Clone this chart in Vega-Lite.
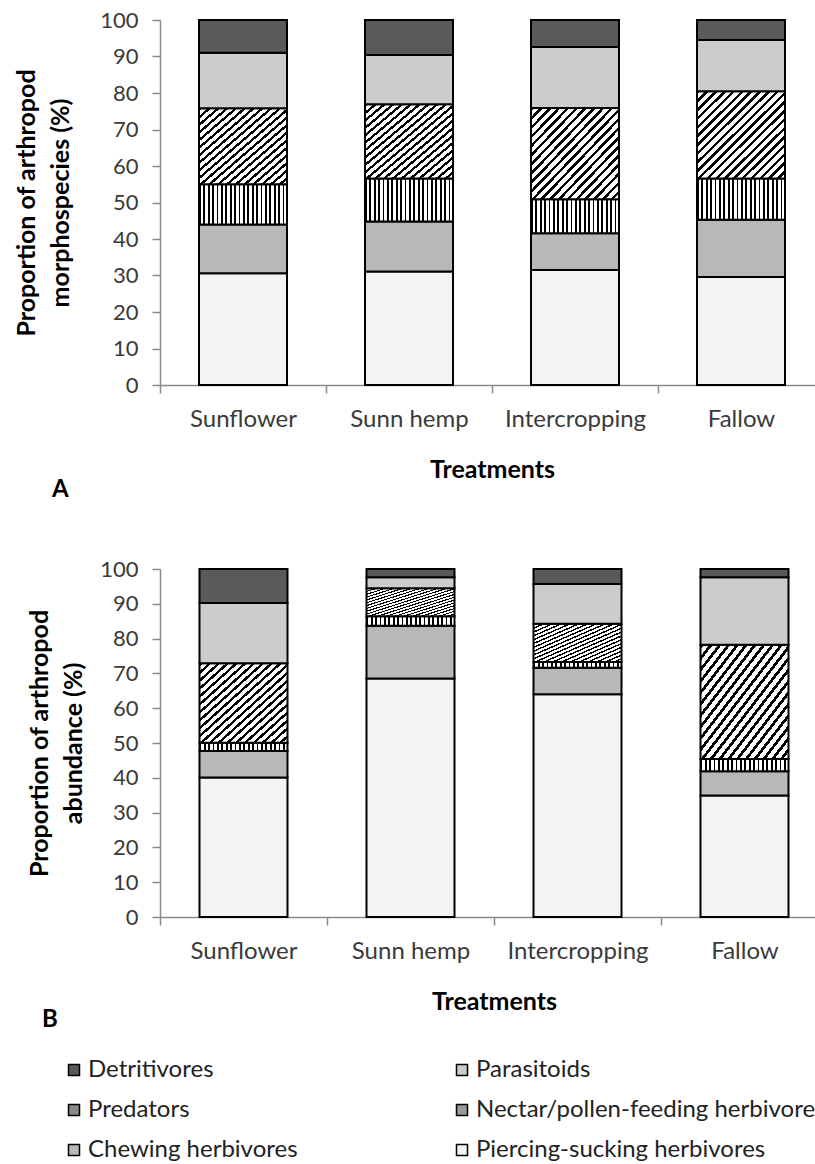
{
  "$schema": "https://vega.github.io/schema/vega-lite/v6.json",
  "background": "white",
  "padding": {"left": 14, "top": 9, "right": 0, "bottom": 0},
  "config": {
    "view": {"stroke": null},
    "font": "Lato",
    "concat": {"spacing": 56},
    "axis": {
      "domainColor": "#8a8a8a", "domainWidth": 1.5, "tickColor": "#8a8a8a", "tickWidth": 1.5, "tickSize": 8,
      "grid": false, "labelColor": "#3a3a3a", "labelFont": "Lato", "titleFont": "Lato", "titleFontWeight": "bold",
      "titleFontSize": 25, "titleColor": "black"
    }
  },
  "datasets": {
    "groups": [
      {"group": "Piercing-sucking herbivores", "rank": 1},
      {"group": "Chewing herbivores", "rank": 2},
      {"group": "Nectar/pollen-feeding herbivores", "rank": 3},
      {"group": "Predators", "rank": 4},
      {"group": "Parasitoids", "rank": 5},
      {"group": "Detritivores", "rank": 6}
    ]
  },
  "data": {"values": [
    {"panel": "A", "treatment": "Sunflower", "group": "Piercing-sucking herbivores", "value": 30.6},
    {"panel": "A", "treatment": "Sunflower", "group": "Chewing herbivores", "value": 13.4},
    {"panel": "A", "treatment": "Sunflower", "group": "Nectar/pollen-feeding herbivores", "value": 11.0},
    {"panel": "A", "treatment": "Sunflower", "group": "Predators", "value": 20.8},
    {"panel": "A", "treatment": "Sunflower", "group": "Parasitoids", "value": 15.2},
    {"panel": "A", "treatment": "Sunflower", "group": "Detritivores", "value": 9.0},
    {"panel": "A", "treatment": "Sunn hemp", "group": "Piercing-sucking herbivores", "value": 31.1},
    {"panel": "A", "treatment": "Sunn hemp", "group": "Chewing herbivores", "value": 13.7},
    {"panel": "A", "treatment": "Sunn hemp", "group": "Nectar/pollen-feeding herbivores", "value": 11.8},
    {"panel": "A", "treatment": "Sunn hemp", "group": "Predators", "value": 20.3},
    {"panel": "A", "treatment": "Sunn hemp", "group": "Parasitoids", "value": 13.5},
    {"panel": "A", "treatment": "Sunn hemp", "group": "Detritivores", "value": 9.6},
    {"panel": "A", "treatment": "Intercropping", "group": "Piercing-sucking herbivores", "value": 31.5},
    {"panel": "A", "treatment": "Intercropping", "group": "Chewing herbivores", "value": 10.1},
    {"panel": "A", "treatment": "Intercropping", "group": "Nectar/pollen-feeding herbivores", "value": 9.3},
    {"panel": "A", "treatment": "Intercropping", "group": "Predators", "value": 25.0},
    {"panel": "A", "treatment": "Intercropping", "group": "Parasitoids", "value": 16.7},
    {"panel": "A", "treatment": "Intercropping", "group": "Detritivores", "value": 7.4},
    {"panel": "A", "treatment": "Fallow", "group": "Piercing-sucking herbivores", "value": 29.6},
    {"panel": "A", "treatment": "Fallow", "group": "Chewing herbivores", "value": 15.7},
    {"panel": "A", "treatment": "Fallow", "group": "Nectar/pollen-feeding herbivores", "value": 11.3},
    {"panel": "A", "treatment": "Fallow", "group": "Predators", "value": 23.9},
    {"panel": "A", "treatment": "Fallow", "group": "Parasitoids", "value": 14.0},
    {"panel": "A", "treatment": "Fallow", "group": "Detritivores", "value": 5.5},
    {"panel": "B", "treatment": "Sunflower", "group": "Piercing-sucking herbivores", "value": 40.1},
    {"panel": "B", "treatment": "Sunflower", "group": "Chewing herbivores", "value": 7.6},
    {"panel": "B", "treatment": "Sunflower", "group": "Nectar/pollen-feeding herbivores", "value": 2.4},
    {"panel": "B", "treatment": "Sunflower", "group": "Predators", "value": 22.8},
    {"panel": "B", "treatment": "Sunflower", "group": "Parasitoids", "value": 17.3},
    {"panel": "B", "treatment": "Sunflower", "group": "Detritivores", "value": 9.8},
    {"panel": "B", "treatment": "Sunn hemp", "group": "Piercing-sucking herbivores", "value": 68.5},
    {"panel": "B", "treatment": "Sunn hemp", "group": "Chewing herbivores", "value": 15.2},
    {"panel": "B", "treatment": "Sunn hemp", "group": "Nectar/pollen-feeding herbivores", "value": 2.7},
    {"panel": "B", "treatment": "Sunn hemp", "group": "Predators", "value": 8.1},
    {"panel": "B", "treatment": "Sunn hemp", "group": "Parasitoids", "value": 3.1},
    {"panel": "B", "treatment": "Sunn hemp", "group": "Detritivores", "value": 2.4},
    {"panel": "B", "treatment": "Intercropping", "group": "Piercing-sucking herbivores", "value": 64.0},
    {"panel": "B", "treatment": "Intercropping", "group": "Chewing herbivores", "value": 7.6},
    {"panel": "B", "treatment": "Intercropping", "group": "Nectar/pollen-feeding herbivores", "value": 1.7},
    {"panel": "B", "treatment": "Intercropping", "group": "Predators", "value": 11.0},
    {"panel": "B", "treatment": "Intercropping", "group": "Parasitoids", "value": 11.4},
    {"panel": "B", "treatment": "Intercropping", "group": "Detritivores", "value": 4.3},
    {"panel": "B", "treatment": "Fallow", "group": "Piercing-sucking herbivores", "value": 34.9},
    {"panel": "B", "treatment": "Fallow", "group": "Chewing herbivores", "value": 7.0},
    {"panel": "B", "treatment": "Fallow", "group": "Nectar/pollen-feeding herbivores", "value": 3.5},
    {"panel": "B", "treatment": "Fallow", "group": "Predators", "value": 32.8},
    {"panel": "B", "treatment": "Fallow", "group": "Parasitoids", "value": 19.4},
    {"panel": "B", "treatment": "Fallow", "group": "Detritivores", "value": 2.4}
  ]},
  "vconcat": [
    {
      "width": 664,
      "height": 365,
      "title": {"text": "A", "orient": "bottom", "anchor": "start", "frame": "group", "dx": -108, "offset": -4, "fontSize": 24, "fontWeight": "bold", "font": "Lato", "color": "black"},
      "transform": [
        {"filter": "datum.panel === 'A'"},
        {"lookup": "group", "from": {"data": {"name": "groups"}, "key": "group", "fields": ["rank"]}}
      ],
      "mark": {"type": "bar", "size": 88, "stroke": "black", "strokeWidth": 2},
      "encoding": {
        "x": {"field": "treatment", "type": "nominal", "sort": ["Sunflower", "Sunn hemp", "Intercropping", "Fallow"],
              "scale": {"paddingInner": 0, "paddingOuter": 0},
              "axis": {"title": "Treatments", "labelAngle": 0, "tickBand": "extent", "labelPadding": 14, "titlePadding": 26, "labelFontSize": 24}},
        "y": {"field": "value", "type": "quantitative", "stack": "zero", "scale": {"domain": [0, 100], "nice": false},
              "axis": {"title": ["Proportion of arthropod", "morphospecies (%)"], "values": [0, 10, 20, 30, 40, 50, 60, 70, 80, 90, 100], "labelPadding": 14, "titlePadding": 26, "titleLineHeight": 34, "labelFontSize": 22}},
        "order": {"field": "rank", "type": "quantitative", "sort": "ascending"},
        "color": {
          "condition": [
            {"test": "datum.group === 'Nectar/pollen-feeding herbivores'", "value": {"gradient": "linear", "x1": 0, "y1": 0, "x2": 1, "y2": 0, "stops": [
                {"offset": 0, "color": "black"}, {"offset": 0.02, "color": "black"}, {"offset": 0.02, "color": "white"}, {"offset": 0.05, "color": "white"},
                {"offset": 0.05, "color": "black"}, {"offset": 0.07, "color": "black"}, {"offset": 0.07, "color": "white"}, {"offset": 0.10, "color": "white"},
                {"offset": 0.10, "color": "black"}, {"offset": 0.12, "color": "black"}, {"offset": 0.12, "color": "white"}, {"offset": 0.15, "color": "white"},
                {"offset": 0.15, "color": "black"}, {"offset": 0.17, "color": "black"}, {"offset": 0.17, "color": "white"}, {"offset": 0.20, "color": "white"},
                {"offset": 0.20, "color": "black"}, {"offset": 0.22, "color": "black"}, {"offset": 0.22, "color": "white"}, {"offset": 0.25, "color": "white"},
                {"offset": 0.25, "color": "black"}, {"offset": 0.27, "color": "black"}, {"offset": 0.27, "color": "white"}, {"offset": 0.30, "color": "white"},
                {"offset": 0.30, "color": "black"}, {"offset": 0.32, "color": "black"}, {"offset": 0.32, "color": "white"}, {"offset": 0.35, "color": "white"},
                {"offset": 0.35, "color": "black"}, {"offset": 0.37, "color": "black"}, {"offset": 0.37, "color": "white"}, {"offset": 0.40, "color": "white"},
                {"offset": 0.40, "color": "black"}, {"offset": 0.42, "color": "black"}, {"offset": 0.42, "color": "white"}, {"offset": 0.45, "color": "white"},
                {"offset": 0.45, "color": "black"}, {"offset": 0.47, "color": "black"}, {"offset": 0.47, "color": "white"}, {"offset": 0.50, "color": "white"},
                {"offset": 0.50, "color": "black"}, {"offset": 0.52, "color": "black"}, {"offset": 0.52, "color": "white"}, {"offset": 0.55, "color": "white"},
                {"offset": 0.55, "color": "black"}, {"offset": 0.57, "color": "black"}, {"offset": 0.57, "color": "white"}, {"offset": 0.60, "color": "white"},
                {"offset": 0.60, "color": "black"}, {"offset": 0.62, "color": "black"}, {"offset": 0.62, "color": "white"}, {"offset": 0.65, "color": "white"},
                {"offset": 0.65, "color": "black"}, {"offset": 0.67, "color": "black"}, {"offset": 0.67, "color": "white"}, {"offset": 0.70, "color": "white"},
                {"offset": 0.70, "color": "black"}, {"offset": 0.72, "color": "black"}, {"offset": 0.72, "color": "white"}, {"offset": 0.75, "color": "white"},
                {"offset": 0.75, "color": "black"}, {"offset": 0.77, "color": "black"}, {"offset": 0.77, "color": "white"}, {"offset": 0.80, "color": "white"},
                {"offset": 0.80, "color": "black"}, {"offset": 0.82, "color": "black"}, {"offset": 0.82, "color": "white"}, {"offset": 0.85, "color": "white"},
                {"offset": 0.85, "color": "black"}, {"offset": 0.87, "color": "black"}, {"offset": 0.87, "color": "white"}, {"offset": 0.90, "color": "white"},
                {"offset": 0.90, "color": "black"}, {"offset": 0.92, "color": "black"}, {"offset": 0.92, "color": "white"}, {"offset": 0.95, "color": "white"},
                {"offset": 0.95, "color": "black"}, {"offset": 0.97, "color": "black"}, {"offset": 0.97, "color": "white"}, {"offset": 1, "color": "white"}
              ]}},
            {"test": "datum.group === 'Predators'", "value": {"gradient": "linear", "x1": 0, "y1": 0, "x2": 1, "y2": 1, "stops": [
                {"offset": 0, "color": "black"}, {"offset": 0.02, "color": "black"}, {"offset": 0.02, "color": "white"}, {"offset": 0.05, "color": "white"},
                {"offset": 0.05, "color": "black"}, {"offset": 0.07, "color": "black"}, {"offset": 0.07, "color": "white"}, {"offset": 0.10, "color": "white"},
                {"offset": 0.10, "color": "black"}, {"offset": 0.12, "color": "black"}, {"offset": 0.12, "color": "white"}, {"offset": 0.15, "color": "white"},
                {"offset": 0.15, "color": "black"}, {"offset": 0.17, "color": "black"}, {"offset": 0.17, "color": "white"}, {"offset": 0.20, "color": "white"},
                {"offset": 0.20, "color": "black"}, {"offset": 0.22, "color": "black"}, {"offset": 0.22, "color": "white"}, {"offset": 0.25, "color": "white"},
                {"offset": 0.25, "color": "black"}, {"offset": 0.27, "color": "black"}, {"offset": 0.27, "color": "white"}, {"offset": 0.30, "color": "white"},
                {"offset": 0.30, "color": "black"}, {"offset": 0.32, "color": "black"}, {"offset": 0.32, "color": "white"}, {"offset": 0.35, "color": "white"},
                {"offset": 0.35, "color": "black"}, {"offset": 0.37, "color": "black"}, {"offset": 0.37, "color": "white"}, {"offset": 0.40, "color": "white"},
                {"offset": 0.40, "color": "black"}, {"offset": 0.42, "color": "black"}, {"offset": 0.42, "color": "white"}, {"offset": 0.45, "color": "white"},
                {"offset": 0.45, "color": "black"}, {"offset": 0.47, "color": "black"}, {"offset": 0.47, "color": "white"}, {"offset": 0.50, "color": "white"},
                {"offset": 0.50, "color": "black"}, {"offset": 0.52, "color": "black"}, {"offset": 0.52, "color": "white"}, {"offset": 0.55, "color": "white"},
                {"offset": 0.55, "color": "black"}, {"offset": 0.57, "color": "black"}, {"offset": 0.57, "color": "white"}, {"offset": 0.60, "color": "white"},
                {"offset": 0.60, "color": "black"}, {"offset": 0.62, "color": "black"}, {"offset": 0.62, "color": "white"}, {"offset": 0.65, "color": "white"},
                {"offset": 0.65, "color": "black"}, {"offset": 0.67, "color": "black"}, {"offset": 0.67, "color": "white"}, {"offset": 0.70, "color": "white"},
                {"offset": 0.70, "color": "black"}, {"offset": 0.72, "color": "black"}, {"offset": 0.72, "color": "white"}, {"offset": 0.75, "color": "white"},
                {"offset": 0.75, "color": "black"}, {"offset": 0.77, "color": "black"}, {"offset": 0.77, "color": "white"}, {"offset": 0.80, "color": "white"},
                {"offset": 0.80, "color": "black"}, {"offset": 0.82, "color": "black"}, {"offset": 0.82, "color": "white"}, {"offset": 0.85, "color": "white"},
                {"offset": 0.85, "color": "black"}, {"offset": 0.87, "color": "black"}, {"offset": 0.87, "color": "white"}, {"offset": 0.90, "color": "white"},
                {"offset": 0.90, "color": "black"}, {"offset": 0.92, "color": "black"}, {"offset": 0.92, "color": "white"}, {"offset": 0.95, "color": "white"},
                {"offset": 0.95, "color": "black"}, {"offset": 0.97, "color": "black"}, {"offset": 0.97, "color": "white"}, {"offset": 1, "color": "white"}
              ]}}
          ],
          "field": "group", "type": "nominal",
          "scale": {"domain": ["Piercing-sucking herbivores", "Chewing herbivores", "Nectar/pollen-feeding herbivores", "Predators", "Parasitoids", "Detritivores"],
            "range": ["#f3f3f3", "#b8b8b8", "#9a9a9a", "#8a8a8a", "#cccccc", "#5a5a5a"]},
          "legend": null
        }
      }
    },
    {
      "width": 668,
      "height": 348,
      "title": {"text": "B", "orient": "left", "anchor": "end", "frame": "group", "angle": 0, "align": "left", "baseline": "alphabetic", "dx": 30, "dy": 458, "offset": 0, "fontSize": 24, "fontWeight": "bold", "font": "Lato", "color": "black"},
      "transform": [
        {"filter": "datum.panel === 'B'"},
        {"lookup": "group", "from": {"data": {"name": "groups"}, "key": "group", "fields": ["rank"]}}
      ],
      "mark": {"type": "bar", "size": 88, "stroke": "black", "strokeWidth": 2},
      "encoding": {
        "x": {"field": "treatment", "type": "nominal", "sort": ["Sunflower", "Sunn hemp", "Intercropping", "Fallow"],
              "scale": {"paddingInner": 0, "paddingOuter": 0},
              "axis": {"title": "Treatments", "labelAngle": 0, "tickBand": "extent", "labelPadding": 14, "titlePadding": 26, "labelFontSize": 24}},
        "y": {"field": "value", "type": "quantitative", "stack": "zero", "scale": {"domain": [0, 100], "nice": false},
              "axis": {"title": ["Proportion of arthropod", "abundance (%)"], "values": [0, 10, 20, 30, 40, 50, 60, 70, 80, 90, 100], "labelPadding": 14, "titlePadding": 13, "titleLineHeight": 34, "labelFontSize": 22}},
        "order": {"field": "rank", "type": "quantitative", "sort": "ascending"},
        "color": {
          "condition": [
            {"test": "datum.group === 'Nectar/pollen-feeding herbivores'", "value": {"gradient": "linear", "x1": 0, "y1": 0, "x2": 1, "y2": 0, "stops": [
                {"offset": 0, "color": "black"}, {"offset": 0.02, "color": "black"}, {"offset": 0.02, "color": "white"}, {"offset": 0.05, "color": "white"},
                {"offset": 0.05, "color": "black"}, {"offset": 0.07, "color": "black"}, {"offset": 0.07, "color": "white"}, {"offset": 0.10, "color": "white"},
                {"offset": 0.10, "color": "black"}, {"offset": 0.12, "color": "black"}, {"offset": 0.12, "color": "white"}, {"offset": 0.15, "color": "white"},
                {"offset": 0.15, "color": "black"}, {"offset": 0.17, "color": "black"}, {"offset": 0.17, "color": "white"}, {"offset": 0.20, "color": "white"},
                {"offset": 0.20, "color": "black"}, {"offset": 0.22, "color": "black"}, {"offset": 0.22, "color": "white"}, {"offset": 0.25, "color": "white"},
                {"offset": 0.25, "color": "black"}, {"offset": 0.27, "color": "black"}, {"offset": 0.27, "color": "white"}, {"offset": 0.30, "color": "white"},
                {"offset": 0.30, "color": "black"}, {"offset": 0.32, "color": "black"}, {"offset": 0.32, "color": "white"}, {"offset": 0.35, "color": "white"},
                {"offset": 0.35, "color": "black"}, {"offset": 0.37, "color": "black"}, {"offset": 0.37, "color": "white"}, {"offset": 0.40, "color": "white"},
                {"offset": 0.40, "color": "black"}, {"offset": 0.42, "color": "black"}, {"offset": 0.42, "color": "white"}, {"offset": 0.45, "color": "white"},
                {"offset": 0.45, "color": "black"}, {"offset": 0.47, "color": "black"}, {"offset": 0.47, "color": "white"}, {"offset": 0.50, "color": "white"},
                {"offset": 0.50, "color": "black"}, {"offset": 0.52, "color": "black"}, {"offset": 0.52, "color": "white"}, {"offset": 0.55, "color": "white"},
                {"offset": 0.55, "color": "black"}, {"offset": 0.57, "color": "black"}, {"offset": 0.57, "color": "white"}, {"offset": 0.60, "color": "white"},
                {"offset": 0.60, "color": "black"}, {"offset": 0.62, "color": "black"}, {"offset": 0.62, "color": "white"}, {"offset": 0.65, "color": "white"},
                {"offset": 0.65, "color": "black"}, {"offset": 0.67, "color": "black"}, {"offset": 0.67, "color": "white"}, {"offset": 0.70, "color": "white"},
                {"offset": 0.70, "color": "black"}, {"offset": 0.72, "color": "black"}, {"offset": 0.72, "color": "white"}, {"offset": 0.75, "color": "white"},
                {"offset": 0.75, "color": "black"}, {"offset": 0.77, "color": "black"}, {"offset": 0.77, "color": "white"}, {"offset": 0.80, "color": "white"},
                {"offset": 0.80, "color": "black"}, {"offset": 0.82, "color": "black"}, {"offset": 0.82, "color": "white"}, {"offset": 0.85, "color": "white"},
                {"offset": 0.85, "color": "black"}, {"offset": 0.87, "color": "black"}, {"offset": 0.87, "color": "white"}, {"offset": 0.90, "color": "white"},
                {"offset": 0.90, "color": "black"}, {"offset": 0.92, "color": "black"}, {"offset": 0.92, "color": "white"}, {"offset": 0.95, "color": "white"},
                {"offset": 0.95, "color": "black"}, {"offset": 0.97, "color": "black"}, {"offset": 0.97, "color": "white"}, {"offset": 1, "color": "white"}
              ]}},
            {"test": "datum.group === 'Predators'", "value": {"gradient": "linear", "x1": 0, "y1": 0, "x2": 1, "y2": 1, "stops": [
                {"offset": 0, "color": "black"}, {"offset": 0.02, "color": "black"}, {"offset": 0.02, "color": "white"}, {"offset": 0.05, "color": "white"},
                {"offset": 0.05, "color": "black"}, {"offset": 0.07, "color": "black"}, {"offset": 0.07, "color": "white"}, {"offset": 0.10, "color": "white"},
                {"offset": 0.10, "color": "black"}, {"offset": 0.12, "color": "black"}, {"offset": 0.12, "color": "white"}, {"offset": 0.15, "color": "white"},
                {"offset": 0.15, "color": "black"}, {"offset": 0.17, "color": "black"}, {"offset": 0.17, "color": "white"}, {"offset": 0.20, "color": "white"},
                {"offset": 0.20, "color": "black"}, {"offset": 0.22, "color": "black"}, {"offset": 0.22, "color": "white"}, {"offset": 0.25, "color": "white"},
                {"offset": 0.25, "color": "black"}, {"offset": 0.27, "color": "black"}, {"offset": 0.27, "color": "white"}, {"offset": 0.30, "color": "white"},
                {"offset": 0.30, "color": "black"}, {"offset": 0.32, "color": "black"}, {"offset": 0.32, "color": "white"}, {"offset": 0.35, "color": "white"},
                {"offset": 0.35, "color": "black"}, {"offset": 0.37, "color": "black"}, {"offset": 0.37, "color": "white"}, {"offset": 0.40, "color": "white"},
                {"offset": 0.40, "color": "black"}, {"offset": 0.42, "color": "black"}, {"offset": 0.42, "color": "white"}, {"offset": 0.45, "color": "white"},
                {"offset": 0.45, "color": "black"}, {"offset": 0.47, "color": "black"}, {"offset": 0.47, "color": "white"}, {"offset": 0.50, "color": "white"},
                {"offset": 0.50, "color": "black"}, {"offset": 0.52, "color": "black"}, {"offset": 0.52, "color": "white"}, {"offset": 0.55, "color": "white"},
                {"offset": 0.55, "color": "black"}, {"offset": 0.57, "color": "black"}, {"offset": 0.57, "color": "white"}, {"offset": 0.60, "color": "white"},
                {"offset": 0.60, "color": "black"}, {"offset": 0.62, "color": "black"}, {"offset": 0.62, "color": "white"}, {"offset": 0.65, "color": "white"},
                {"offset": 0.65, "color": "black"}, {"offset": 0.67, "color": "black"}, {"offset": 0.67, "color": "white"}, {"offset": 0.70, "color": "white"},
                {"offset": 0.70, "color": "black"}, {"offset": 0.72, "color": "black"}, {"offset": 0.72, "color": "white"}, {"offset": 0.75, "color": "white"},
                {"offset": 0.75, "color": "black"}, {"offset": 0.77, "color": "black"}, {"offset": 0.77, "color": "white"}, {"offset": 0.80, "color": "white"},
                {"offset": 0.80, "color": "black"}, {"offset": 0.82, "color": "black"}, {"offset": 0.82, "color": "white"}, {"offset": 0.85, "color": "white"},
                {"offset": 0.85, "color": "black"}, {"offset": 0.87, "color": "black"}, {"offset": 0.87, "color": "white"}, {"offset": 0.90, "color": "white"},
                {"offset": 0.90, "color": "black"}, {"offset": 0.92, "color": "black"}, {"offset": 0.92, "color": "white"}, {"offset": 0.95, "color": "white"},
                {"offset": 0.95, "color": "black"}, {"offset": 0.97, "color": "black"}, {"offset": 0.97, "color": "white"}, {"offset": 1, "color": "white"}
              ]}}
          ],
          "field": "group", "type": "nominal",
          "legend": {"values": ["Detritivores", "Predators", "Chewing herbivores", "Parasitoids", "Nectar/pollen-feeding herbivores", "Piercing-sucking herbivores"],
            "orient": "none", "legendX": -98, "legendY": 489, "columns": 2, "columnPadding": 152, "rowPadding": 16, "title": null,
            "symbolType": "square", "symbolSize": 121, "symbolStrokeColor": "black", "symbolStrokeWidth": 1.5,
            "labelFont": "Lato", "labelFontSize": 24, "labelColor": "#222", "labelOffset": 2, "labelLimit": 600}
        }
      }
    }
  ],
  "resolve": {"scale": {"color": "shared"}, "legend": {"color": "independent"}}
}
